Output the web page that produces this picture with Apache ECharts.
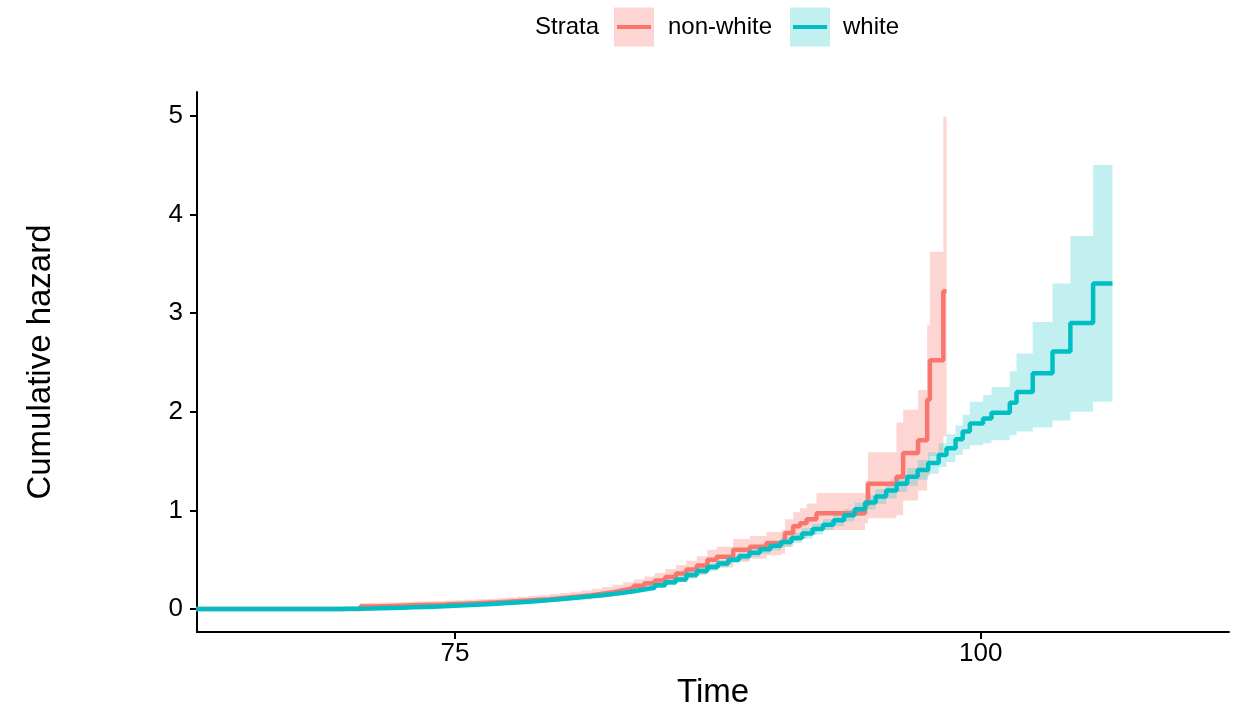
<!DOCTYPE html>
<html>
<head>
<meta charset="utf-8">
<script src="https://cdn.jsdelivr.net/npm/echarts@6/dist/echarts.min.js"></script>
<style>
  html, body { margin: 0; padding: 0; background: #ffffff; }
  #chart { width: 1243px; height: 717px; }
</style>
</head>
<body>
<div id="chart"></div>
<script>
// Cumulative hazard by strata (step functions with confidence bands)
const strataNames = ['non-white', 'white'];
const strataColors = ['#F8766D', '#00BFC4'];
const xTickValues = [75, 100];
const yTickValues = [0, 1, 2, 3, 4, 5];

const nonWhiteTime = [62.7, 70.5, 71, 71.5, 72, 72.5, 73, 73.5, 74, 74.5, 75, 75.5, 76, 76.5, 77, 77.5, 78, 78.5, 79, 79.5,
  80, 80.5, 81, 81.5, 82, 82.5, 83, 83.5, 84, 84.5, 85, 85.5, 86, 86.5, 87,
  87.44, 88.23, 89.02, 89.81, 90.53, 90.69, 91.08, 91.40, 91.72, 92.19,
  94.5, 94.64, 95.99, 96.31, 97.02, 97.45, 97.58, 98.22, 98.37];
const nonWhiteHazard = [0, 0.025, 0.028, 0.031, 0.034, 0.037, 0.04, 0.043, 0.046, 0.05, 0.054, 0.058, 0.063, 0.068, 0.074, 0.08, 0.087, 0.094, 0.10, 0.11,
  0.12, 0.13, 0.14, 0.155, 0.17, 0.19, 0.21, 0.235, 0.26, 0.29, 0.325, 0.36, 0.40, 0.44, 0.50,
  0.53, 0.60, 0.63, 0.67, 0.685, 0.77, 0.84, 0.87, 0.91, 0.97,
  1.06, 1.27, 1.34, 1.58, 1.71, 2.12, 2.52, 3.22, 3.22];
const nonWhiteLower = [0, 0.005, 0.007, 0.009, 0.011, 0.013, 0.015, 0.017, 0.019, 0.022, 0.025, 0.028, 0.032, 0.036, 0.041, 0.046, 0.052, 0.058, 0.063, 0.071,
  0.08, 0.088, 0.096, 0.108, 0.12, 0.136, 0.152, 0.17, 0.19, 0.215, 0.245, 0.275, 0.31, 0.345, 0.39,
  0.42, 0.48, 0.51, 0.545, 0.56, 0.63, 0.69, 0.715, 0.75, 0.80,
  0.87, 0.92, 0.95, 1.10, 1.20, 1.35, 1.55, 1.75, 1.75];
const nonWhiteUpper = [0, 0.06, 0.063, 0.066, 0.069, 0.072, 0.075, 0.078, 0.081, 0.085, 0.089, 0.093, 0.098, 0.103, 0.11, 0.117, 0.125, 0.133, 0.14, 0.152,
  0.163, 0.175, 0.187, 0.205, 0.223, 0.247, 0.27, 0.30, 0.33, 0.365, 0.405, 0.445, 0.49, 0.535, 0.60,
  0.63, 0.71, 0.74, 0.78, 0.80, 0.91, 0.98, 1.02, 1.07, 1.175,
  1.30, 1.59, 1.89, 2.02, 2.22, 2.88, 3.62, 4.99, 4.99];

const whiteTime = [62.7, 69, 69.5, 70, 70.5, 71, 71.5, 72, 72.5, 73, 73.5, 74, 74.5, 75, 75.5, 76, 76.5, 77, 77.5, 78, 78.5, 79, 79.5,
  80, 80.5, 81, 81.5, 82, 82.5, 83, 83.5, 84, 84.5, 85, 85.5, 86, 86.5, 87, 87.5, 88, 88.5, 89, 89.5,
  90, 90.5, 91, 91.5, 92, 92.5, 93, 93.5, 94, 94.5, 95, 95.5, 96, 96.5, 97, 97.5, 98,
  98.37, 98.8, 99.14, 99.48, 100.11, 100.51, 101.38, 101.70, 102.47, 103.41, 104.26, 105.34, 106.26];
const whiteHazard = [0, 0.001, 0.002, 0.003, 0.005, 0.008, 0.011, 0.014, 0.017, 0.02, 0.024, 0.028, 0.033, 0.038, 0.043, 0.048, 0.054, 0.06, 0.067, 0.074, 0.082, 0.09, 0.10,
  0.11, 0.12, 0.13, 0.14, 0.152, 0.165, 0.18, 0.197, 0.215, 0.24, 0.27, 0.30, 0.345, 0.385, 0.425, 0.46, 0.50, 0.535, 0.57, 0.605,
  0.64, 0.68, 0.72, 0.765, 0.81, 0.855, 0.90, 0.95, 1.01, 1.08, 1.14, 1.20, 1.27, 1.34, 1.41, 1.48, 1.56,
  1.63, 1.72, 1.80, 1.88, 1.93, 1.99, 2.09, 2.20, 2.39, 2.61, 2.90, 3.30, 3.30];
const whiteLower = [0, 0, 0, 0.001, 0.002, 0.004, 0.006, 0.008, 0.01, 0.012, 0.015, 0.018, 0.022, 0.026, 0.03, 0.034, 0.04, 0.045, 0.052, 0.058, 0.065, 0.073, 0.082,
  0.091, 0.1, 0.109, 0.118, 0.13, 0.142, 0.156, 0.172, 0.189, 0.213, 0.242, 0.271, 0.315, 0.353, 0.39, 0.424, 0.462, 0.495, 0.528, 0.561,
  0.595, 0.632, 0.67, 0.712, 0.755, 0.797, 0.84, 0.887, 0.943, 1.008, 1.065, 1.12, 1.185, 1.25, 1.31, 1.37, 1.44,
  1.49, 1.56, 1.62, 1.66, 1.68, 1.71, 1.76, 1.80, 1.84, 1.91, 2.00, 2.10, 2.10];
const whiteUpper = [0, 0.003, 0.004, 0.006, 0.008, 0.012, 0.016, 0.02, 0.024, 0.028, 0.033, 0.038, 0.044, 0.05, 0.056, 0.062, 0.068, 0.075, 0.082, 0.09, 0.099, 0.107, 0.118,
  0.129, 0.14, 0.151, 0.162, 0.174, 0.188, 0.204, 0.222, 0.241, 0.267, 0.298, 0.329, 0.375, 0.417, 0.46, 0.496, 0.538, 0.575, 0.612, 0.649,
  0.685, 0.728, 0.77, 0.818, 0.865, 0.913, 0.96, 1.013, 1.077, 1.152, 1.215, 1.28, 1.355, 1.43, 1.51, 1.59, 1.68,
  1.77, 1.86, 1.97, 2.10, 2.17, 2.25, 2.41, 2.59, 2.91, 3.30, 3.78, 4.50, 4.50];

const FONT = '"Liberation Sans", Arial, Helvetica, sans-serif';

function zip(a, b) { return a.map((v, i) => [v, b[i]]); }

function bandRows(time, lower, upper) {
  return time.map((t, i) => [t, lower[i], upper[i]]);
}

// Draws one step-shaped ribbon as a single polygon through the axis scales
function bandRenderer(time, lower, upper, fill) {
  return function (params, api) {
    if (params.dataIndex !== 0) return null;
    const top = [], bottom = [];
    for (let i = 0; i < time.length; i++) {
      const tNext = i + 1 < time.length ? time[i + 1] : time[i];
      top.push(api.coord([time[i], upper[i]]), api.coord([tNext, upper[i]]));
      bottom.push(api.coord([time[i], lower[i]]), api.coord([tNext, lower[i]]));
    }
    return {
      type: 'polygon',
      shape: { points: top.concat(bottom.reverse()) },
      style: { fill: fill, stroke: null }
    };
  };
}

const bandFills = ['rgba(248,118,109,0.3)', 'rgba(0,191,196,0.24)'];

// Legend drawn as key boxes (ribbon fill + line) with labels
const legendLayout = { titleX: 535, keyX: [614, 790], labelX: [668, 843], y: 27, keyW: 40, keyH: 39 };
const legendGraphic = [{
  type: 'text', x: legendLayout.titleX, y: legendLayout.y,
  style: { text: 'Strata', font: '24px ' + FONT, fill: '#000', verticalAlign: 'middle', textVerticalAlign: 'middle' }
}];
strataNames.forEach((name, i) => {
  const kx = legendLayout.keyX[i];
  legendGraphic.push({
    type: 'rect',
    shape: { x: kx, y: legendLayout.y - legendLayout.keyH / 2, width: legendLayout.keyW, height: legendLayout.keyH },
    style: { fill: bandFills[i] }
  });
  legendGraphic.push({
    type: 'line',
    shape: { x1: kx + 3, y1: legendLayout.y, x2: kx + legendLayout.keyW - 3, y2: legendLayout.y },
    style: { stroke: strataColors[i], lineWidth: 4 }
  });
  legendGraphic.push({
    type: 'text', x: legendLayout.labelX[i], y: legendLayout.y,
    style: { text: name, font: '24px ' + FONT, fill: '#000', verticalAlign: 'middle', textVerticalAlign: 'middle' }
  });
});

const axisCommon = {
  type: 'value',
  splitLine: { show: false },
  axisLine: { show: true, onZero: false, lineStyle: { color: '#000', width: 2 } },
  axisTick: { show: true, length: 7, lineStyle: { color: '#000', width: 2 } },
  axisLabel: { color: '#000', fontSize: 26, fontFamily: FONT },
  nameLocation: 'middle',
  nameTextStyle: { color: '#000', fontSize: 33, fontFamily: FONT }
};

const chart = echarts.init(document.getElementById('chart'), null, { renderer: 'canvas' });
chart.setOption({
  animation: false,
  backgroundColor: '#ffffff',
  textStyle: { fontFamily: FONT },
  grid: { left: 197, right: 14, top: 92, bottom: 85, containLabel: false },
  xAxis: Object.assign({}, axisCommon, {
    min: 62.74, max: 111.8,
    name: 'Time', nameGap: 44,
    axisTick: Object.assign({}, axisCommon.axisTick, { customValues: xTickValues }),
    axisLabel: Object.assign({}, axisCommon.axisLabel, { customValues: xTickValues, margin: 9 })
  }),
  yAxis: Object.assign({}, axisCommon, {
    min: -0.233, max: 5.24,
    name: 'Cumulative hazard', nameGap: 140,
    axisTick: Object.assign({}, axisCommon.axisTick, { customValues: yTickValues }),
    axisLabel: Object.assign({}, axisCommon.axisLabel, { customValues: yTickValues, margin: 14 })
  }),
  graphic: legendGraphic,
  series: [
    {
      name: strataNames[0], type: 'line', step: 'end', showSymbol: false, silent: true,
      data: zip(nonWhiteTime, nonWhiteHazard),
      lineStyle: { color: strataColors[0], width: 4.5 }
    },
    {
      name: strataNames[1], type: 'line', step: 'end', showSymbol: false, silent: true,
      data: zip(whiteTime, whiteHazard),
      lineStyle: { color: strataColors[1], width: 4.5 }
    },
    {
      name: strataNames[0] + ' band', type: 'custom', silent: true,
      data: bandRows(nonWhiteTime, nonWhiteLower, nonWhiteUpper),
      encode: { x: 0, y: [1, 2] },
      renderItem: bandRenderer(nonWhiteTime, nonWhiteLower, nonWhiteUpper, bandFills[0])
    },
    {
      name: strataNames[1] + ' band', type: 'custom', silent: true,
      data: bandRows(whiteTime, whiteLower, whiteUpper),
      encode: { x: 0, y: [1, 2] },
      renderItem: bandRenderer(whiteTime, whiteLower, whiteUpper, bandFills[1])
    }
  ]
});
</script>
</body>
</html>
